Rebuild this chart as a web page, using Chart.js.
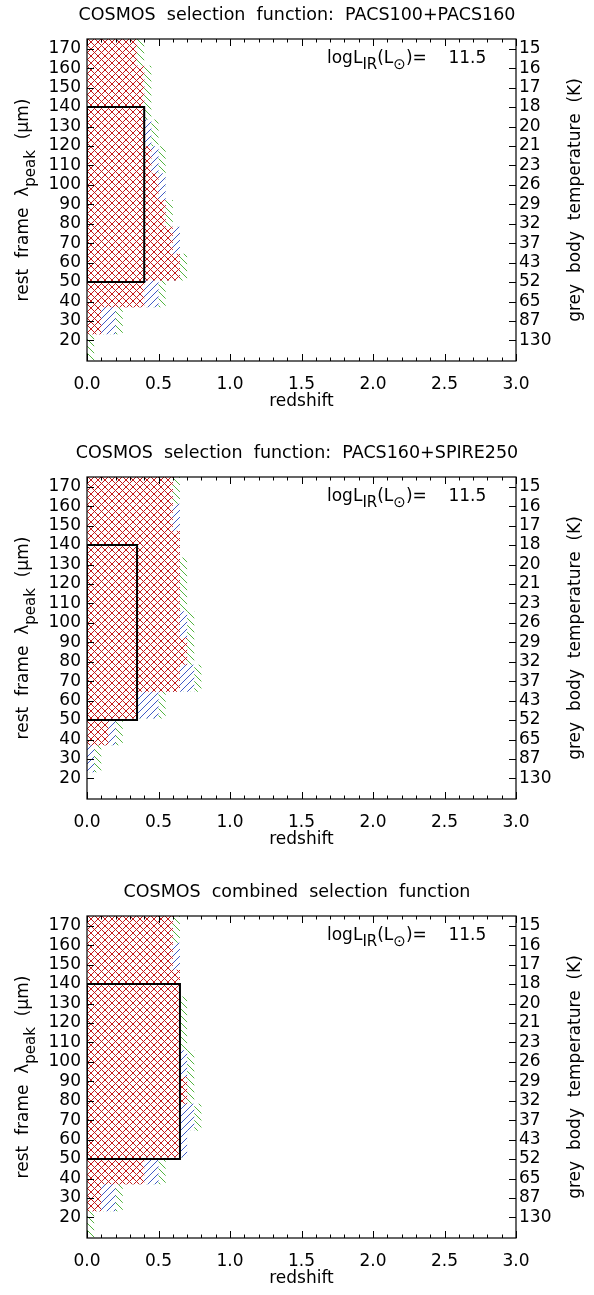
<!DOCTYPE html>
<html><head><meta charset="utf-8">
<script src="https://cdn.jsdelivr.net/npm/chart.js@4.4.1/dist/chart.umd.min.js"></script>
<style>
html,body{margin:0;padding:0;background:#fff;width:594px;height:1295px;overflow:hidden}
.panel{position:absolute;left:0;width:594px}
</style></head><body>
<div class="panel" style="top:0;height:438px"><canvas id="c1"></canvas></div>
<div class="panel" style="top:438px;height:439px"><canvas id="c2"></canvas></div>
<div class="panel" style="top:877px;height:418px"><canvas id="c3"></canvas></div>
<script>
// ---------- data ----------
const redshiftTicks = [0, 0.5, 1.0, 1.5, 2.0, 2.5, 3.0];
const redshiftMinorTicks = [0.1,0.2,0.3,0.4,0.6,0.7,0.8,0.9,1.1,1.2,1.3,1.4,1.6,1.7,1.8,1.9,2.1,2.2,2.3,2.4,2.6,2.7,2.8,2.9];
const lambdaTicks = [20,30,40,50,60,70,80,90,100,110,120,130,140,150,160,170];
const tempLabels = ['130','87','65','52','43','37','32','29','26','23','21','20','18','17','16','15'];
// wavelength bin edges of the selection grid (bottom to top)
const lambdaEdges = [9.4, 23.2, 37.0, 50.8, 64.6, 78.4, 92.2, 106.0, 119.8, 133.6, 147.4, 161.2, 175.0];

const titles = [
  'COSMOS  selection  function:  PACS100+PACS160',
  'COSMOS  selection  function:  PACS160+SPIRE250',
  'COSMOS  combined  selection  function'
];
const logLIR = '11.5';

// maximal redshift reached in each wavelength bin (bottom to top)
const p1Red   = [0,    0.1,  0.4,  0.65, 0.6,  0.55, 0.5,  0.45, 0.4,  0.4,  0.4,  0.35];
const p1Blue  = [0,    0.2,  0.5,  0.65, 0.65, 0.55, 0.55, 0.5,  0.45, 0.4,  0.4,  0.35];
const p1Green = [0.05, 0.25, 0.55, 0.7,  0.65, 0.6,  0.55, 0.55, 0.5,  0.45, 0.45, 0.4];
const p1Box   = [0, 0.4, 50, 140];

const p2Red   = [0,    0,    0.15, 0.35, 0.65, 0.7,  0.65, 0.65, 0.65, 0.65, 0.6,  0.6];
const p2Blue  = [0,    0.05, 0.2,  0.5,  0.75, 0.7,  0.7,  0.65, 0.65, 0.65, 0.65, 0.6];
const p2Green = [0,    0.1,  0.25, 0.55, 0.8,  0.75, 0.75, 0.7,  0.7,  0.65, 0.65, 0.65];
const p2Box   = [0, 0.35, 50, 140];

const p3Red   = [0,    0.1,  0.4,  0.65, 0.65, 0.7,  0.65, 0.65, 0.65, 0.65, 0.6,  0.6];
const p3Blue  = [0,    0.2,  0.5,  0.7,  0.75, 0.7,  0.7,  0.65, 0.65, 0.65, 0.65, 0.6];
const p3Green = [0.05, 0.25, 0.55, 0.7,  0.8,  0.75, 0.75, 0.7,  0.7,  0.65, 0.65, 0.65];
const p3Box   = [0, 0.65, 50, 140];

// ---------- styling ----------
const FONT = "'DejaVu Sans', sans-serif";
const RED = '#c41c1c', BLUE = '#3f5ac4', GREEN = '#52b43e';

function makePattern(kind, color) {
  const s = 7;
  const c = document.createElement('canvas');
  c.width = s; c.height = s;
  const g = c.getContext('2d');
  g.fillStyle = '#fff'; g.fillRect(0, 0, s, s);
  g.fillStyle = color;
  for (let i = 0; i < s; i++) {
    if (kind === '/' || kind === 'x') g.fillRect(i, s - 1 - i, 1, 1);
    if (kind === '\\' || kind === 'x') g.fillRect(i, i, 1, 1);
  }
  return g.createPattern(c, 'repeat');
}

function stepOutline(z) {
  const pts = [{x: 0, y: lambdaEdges[0]}];
  for (let i = 0; i < z.length; i++) {
    pts.push({x: z[i], y: lambdaEdges[i]});
    pts.push({x: z[i], y: lambdaEdges[i + 1]});
  }
  pts.push({x: 0, y: lambdaEdges[lambdaEdges.length - 1]});
  return pts;
}
function boxOutline(b) {
  return [{x:b[0],y:b[2]},{x:b[1],y:b[2]},{x:b[1],y:b[3]},{x:b[0],y:b[3]},{x:b[0],y:b[2]}];
}

const decor = {
  id: 'decor',
  afterDraw(chart) {
    const ctx = chart.ctx, a = chart.chartArea;
    const xs = chart.scales.x, ys = chart.scales.y;
    ctx.save();
    ctx.strokeStyle = '#000'; ctx.lineWidth = 1.2;
    ctx.strokeRect(a.left, a.top, a.right - a.left, a.bottom - a.top);
    ctx.lineWidth = 1;
    const line = (x1,y1,x2,y2) => { ctx.beginPath(); ctx.moveTo(x1,y1); ctx.lineTo(x2,y2); ctx.stroke(); };
    for (const v of redshiftTicks) { const p = Math.round(xs.getPixelForValue(v)) + 0.5; line(p, a.bottom, p, a.bottom - 7); line(p, a.top, p, a.top + 7); }
    for (const v of redshiftMinorTicks) { const p = Math.round(xs.getPixelForValue(v)) + 0.5; line(p, a.bottom, p, a.bottom - 3.5); line(p, a.top, p, a.top + 3.5); }
    for (const v of lambdaTicks) { const p = Math.round(ys.getPixelForValue(v)) + 0.5; line(a.left, p, a.left + 7, p); line(a.right, p, a.right - 7, p); }

    ctx.fillStyle = '#000';
    ctx.textBaseline = 'middle';
    const main = '17px ' + FONT, sub = '15px ' + FONT;
    // left axis title with subscript
    const cy = (a.top + a.bottom) / 2;
    ctx.save();
    ctx.translate(24, cy); ctx.rotate(-Math.PI / 2);
    const parts = [['rest  frame  λ', main, 0], ['peak', sub, 7], ['  (µm)', main, 0]];
    let w = 0;
    for (const p of parts) { ctx.font = p[1]; w += ctx.measureText(p[0]).width; }
    let x = -w / 2;
    ctx.textAlign = 'left';
    for (const p of parts) { ctx.font = p[1]; ctx.fillText(p[0], x, p[2]); x += ctx.measureText(p[0]).width; }
    ctx.restore();
    // right axis title
    ctx.save();
    ctx.translate(576, cy); ctx.rotate(-Math.PI / 2);
    ctx.font = main; ctx.textAlign = 'center';
    ctx.fillText('grey  body  temperature  (K)', 0, 0);
    ctx.restore();
    // luminosity annotation
    const ann = [['logL', main, 0], ['IR', sub, 6], ['(L', main, 0], ['⊙', sub, 6], [')=    ' + logLIR, main, 0]];
    let ax = 327; const ay = a.top + 20;
    ctx.textAlign = 'left';
    for (const p of ann) { ctx.font = p[1]; ctx.fillText(p[0], ax, ay + p[2]); ax += ctx.measureText(p[0]).width; }
    ctx.restore();
  }
};

function makeChart(id, title, red, blue, green, box, height) {
  const tickFont = {family: FONT, size: 17};
  const noGrid = {display: false, drawTicks: false, tickLength: 0};
  return new Chart(document.getElementById(id), {
    type: 'line',
    data: {
      datasets: [
        {data: boxOutline(box), borderColor: '#000', borderWidth: 2, fill: false, pointRadius: 0, tension: 0},
        {data: stepOutline(red), backgroundColor: makePattern('x', RED), borderWidth: 0, borderColor: 'rgba(0,0,0,0)', fill: 'shape', pointRadius: 0, tension: 0},
        {data: stepOutline(blue), backgroundColor: makePattern('/', BLUE), borderWidth: 0, borderColor: 'rgba(0,0,0,0)', fill: 'shape', pointRadius: 0, tension: 0},
        {data: stepOutline(green), backgroundColor: makePattern('\\', GREEN), borderWidth: 0, borderColor: 'rgba(0,0,0,0)', fill: 'shape', pointRadius: 0, tension: 0}
      ]
    },
    options: {
      responsive: true, maintainAspectRatio: false, animation: false, events: [],
      layout: {padding: 0},
      plugins: {
        legend: {display: false}, tooltip: {enabled: false},
        title: {display: true, text: title, color: '#000', font: {family: FONT, size: 17.5, weight: 'normal'}, padding: {top: 5, bottom: 13}}
      },
      scales: {
        x: {
          type: 'linear', position: 'bottom', min: 0, max: 3,
          grid: noGrid, border: {display: false},
          afterBuildTicks: s => { s.ticks = redshiftTicks.map(v => ({value: v})); },
          afterFit: s => { s.height = height - 361; },
          ticks: {color: '#000', font: tickFont, padding: 13, maxRotation: 0, autoSkip: false, callback: v => Number(v).toFixed(1)},
          title: {display: true, text: 'redshift', color: '#000', font: {family: FONT, size: 17}, padding: {top: 0, bottom: height - 402 - 10.2}}
        },
        y: {
          type: 'linear', position: 'left', min: lambdaEdges[0], max: lambdaEdges[lambdaEdges.length - 1],
          grid: noGrid, border: {display: false},
          afterBuildTicks: s => { s.ticks = lambdaTicks.map(v => ({value: v})); },
          afterFit: s => { s.width = 87; },
          ticks: {color: '#000', font: tickFont, padding: 6, autoSkip: false}
        },
        y2: {
          type: 'linear', position: 'right', min: lambdaEdges[0], max: lambdaEdges[lambdaEdges.length - 1],
          grid: noGrid, border: {display: false},
          afterBuildTicks: s => { s.ticks = lambdaTicks.map(v => ({value: v})); },
          afterFit: s => { s.width = 78; },
          ticks: {color: '#000', font: tickFont, padding: 3, autoSkip: false, callback: (v, i) => tempLabels[i]}
        }
      }
    },
    plugins: [decor]
  });
}

makeChart('c1', titles[0], p1Red, p1Blue, p1Green, p1Box, 438);
makeChart('c2', titles[1], p2Red, p2Blue, p2Green, p2Box, 439);
makeChart('c3', titles[2], p3Red, p3Blue, p3Green, p3Box, 418);
</script>
</body></html>
